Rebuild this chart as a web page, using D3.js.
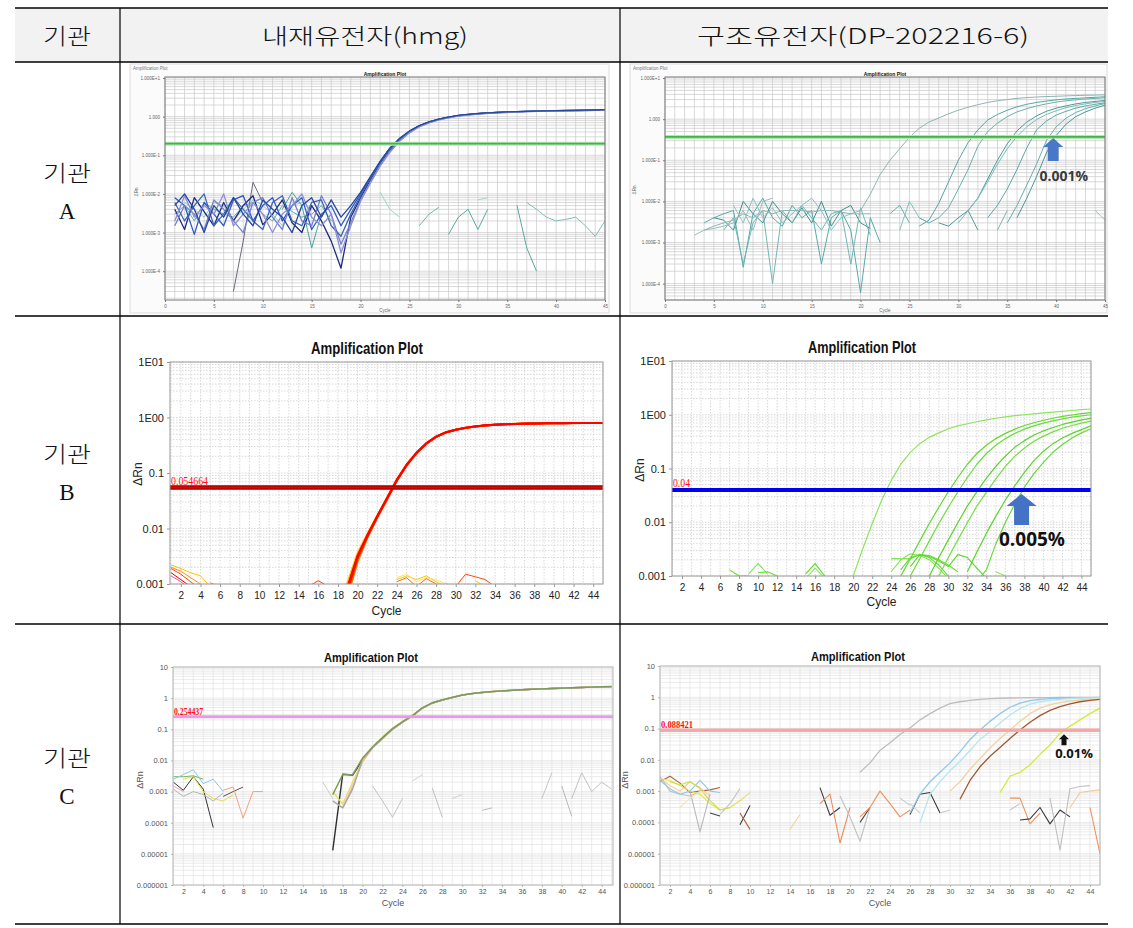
<!DOCTYPE html>
<html>
<head>
<meta charset="utf-8">
<script src="https://cdn.jsdelivr.net/npm/d3@7"></script>
<style>
  body { margin: 0; background: #fff; }
</style>
</head>
<body>
<script>
// ---------- data ----------
var headers = ["기관", "내재유전자(hmg)", "구조유전자(DP-202216-6)"];
var rowNames = ["A", "B", "C"];

// panel A1 (hmg) - cycle 1..45
var a1CurveStart = [1, 1, 1, 1, 1, 1];
var a1Curves = [
  [4e-3,1.2e-3,8e-3,3.5e-3,1.5e-3,6e-3,2e-3,5e-3,9e-3,1.6e-3,3e-3,7e-3,1.8e-3,1e-3,5e-3,2e-3,6e-4,1.2e-4,2.5e-3,8e-3,2.3e-2,6.2e-2,0.14,0.26,0.41,0.57,0.72,0.85,0.96,1.06,1.13,1.19,1.24,1.28,1.31,1.34,1.36,1.38,1.4,1.42,1.43,1.44,1.45,1.47,1.5],
  [8e-3,5e-3,9e-4,6e-3,3e-3,1.5e-3,7e-3,9e-3,2e-3,5e-3,8e-3,2e-3,5e-3,8e-3,1.2e-3,3e-3,5e-3,1.5e-3,4e-3,1e-2,2.6e-2,6.8e-2,0.15,0.27,0.42,0.58,0.73,0.86,0.97,1.07,1.14,1.2,1.25,1.29,1.32,1.35,1.37,1.39,1.41,1.43,1.44,1.45,1.46,1.48,1.51],
  [1.5e-3,5e-3,3e-3,1.2e-3,7e-3,4e-3,2e-3,1e-3,6e-3,8e-3,2.5e-3,1.2e-3,8e-3,2e-3,1.5e-3,9e-3,3e-3,5e-4,1.8e-3,7e-3,2e-2,5.5e-2,0.125,0.24,0.39,0.55,0.7,0.83,0.94,1.04,1.11,1.17,1.22,1.26,1.29,1.32,1.35,1.37,1.39,1.41,1.42,1.43,1.44,1.46,1.48],
  [6e-3,2e-3,5e-3,1e-2,1.5e-3,3e-3,8e-3,4e-3,2e-3,1.2e-3,6e-3,9e-3,2e-3,1.5e-3,6e-3,7e-3,1.5e-3,8e-4,3e-3,9e-3,2.5e-2,6.5e-2,0.145,0.265,0.415,0.575,0.725,0.855,0.965,1.065,1.135,1.195,1.245,1.285,1.315,1.345,1.365,1.385,1.405,1.425,1.435,1.445,1.455,1.475,1.5],
  [2e-3,9e-3,2.5e-3,5e-3,3e-3,1e-2,1.5e-3,3e-3,6e-3,3e-3,1e-3,3e-3,5e-3,1e-2,2.5e-3,1.5e-3,3e-3,3e-4,1.5e-3,6.5e-3,1.9e-2,5.2e-2,0.12,0.23,0.38,0.54,0.69,0.82,0.93,1.03,1.1,1.16,1.21,1.25,1.28,1.31,1.34,1.36,1.38,1.4,1.41,1.42,1.43,1.45,1.47],
  [5e-3,1e-2,4e-3,1e-3,5e-3,2.5e-3,8e-3,3e-3,1.5e-3,7e-3,4e-3,2.5e-3,1e-3,5e-3,8e-3,2.5e-3,7e-3,2.5e-3,5e-3,1.1e-2,2.8e-2,7e-2,0.155,0.275,0.425,0.585,0.735,0.865,0.975,1.075,1.145,1.205,1.255,1.295,1.325,1.355,1.375,1.395,1.415,1.435,1.445,1.455,1.465,1.485,1.52]
];
var a1NoiseStart = [1, 2, 7, 12, 22, 26, 29, 32, 36, 37];
var a1Noise = [
  [3e-3,5e-3,2e-3,6e-3,4e-3,3e-3,2.5e-3,5e-3,6e-3,3e-3,2e-3,5e-3,3.5e-3,2.5e-3,3e-3,5e-3,2e-3],
  [6e-3,4e-3,2.5e-3,6e-3,5e-3,2e-3,4e-3,7e-3,5e-3,3e-3,1.5e-3,5e-3,6e-3,4e-3],
  [3e-5,6e-4,2e-2,6e-3],
  [4e-3,1.1e-2,5e-3,4e-4,3e-3],
  [1.1e-2,4e-3,2.5e-3],
  [1.5e-3,3e-3,4.5e-3],
  [9e-4,2.5e-3,4e-3,1.2e-3,4e-3],
  [7e-3,8e-3],
  [5e-3,4e-4,1e-4],
  [6e-3,4e-3,2.5e-3,2e-3,2.2e-3,2.5e-3,1.5e-3,8e-4,2e-3]
];
var a1Threshold = 0.2;

// panel A2 (DP-202216-6)
var a2CurveStart = [4, 26, 26, 28, 30, 33, 35, 36];
var a2Curves = [
  [2e-3,2.5e-3,3e-3,3.5e-3,5e-3,4e-3,6e-3,5e-3,6e-3,6e-3,6e-3,5.5e-3,6e-3,6e-3,5.5e-3,5e-3,6e-3,1.5e-2,4.5e-2,0.1,0.19,0.36,0.6,0.85,1.07,1.35,1.65,1.95,2.25,2.55,2.8,3.0,3.2,3.35,3.45,3.55,3.6,3.68,3.75,3.8,3.85,3.9],
  [2.5e-3,3.5e-3,9e-3,3e-2,0.1,0.27,0.55,0.95,1.3,1.65,2.0,2.3,2.55,2.75,2.95,3.1,3.2,3.3,3.4,3.5],
  [4e-3,3e-3,4e-3,7e-3,2e-2,6e-2,0.22,0.5,0.8,1.15,1.5,1.8,2.1,2.35,2.6,2.8,2.95,3.1,3.2,3.3],
  [3e-3,2.5e-3,4e-3,6e-3,1.2e-2,3.5e-2,0.1,0.25,0.52,0.85,1.2,1.55,1.85,2.1,2.35,2.55,2.7,2.85],
  [3e-3,6e-3,1.2e-2,3e-2,8e-2,0.19,0.38,0.65,0.98,1.3,1.6,1.9,2.15,2.35,2.55,2.7],
  [4e-3,8e-3,2e-2,6e-2,0.2,0.55,0.9,1.25,1.55,1.85,2.1,2.3,2.5],
  [3e-3,8e-3,2.5e-2,8e-2,0.3,0.65,1.05,1.45,1.8,2.1,2.4],
  [4e-3,1.2e-2,4e-2,0.15,0.4,0.75,1.15,1.5,1.85,2.2]
];
var a2NoiseStart = [4, 5, 6, 7, 3, 23, 24, 31, 34, 44];
var a2Noise = [
  [3e-3,4e-3,5e-3,6e-3,2.5e-4,5e-3,1.2e-2,4e-3,2.5e-3,8e-3,4e-3,6e-3,3e-4,4e-3,6e-3,2e-3,6e-5,4e-3,1e-3],
  [4e-3,3.5e-3,2e-3,1e-2,5e-3,3e-3,1e-2,5e-3,3e-3,7e-3,3e-3,1e-2,2.5e-3,6e-3,8e-3,3e-3,2.2e-3],
  [2e-3,4e-3,3e-4,3e-3,6e-3,1e-4,6e-3,3e-3,8e-3,4e-3,2e-3,5e-3,6e-3,3e-4,7e-3,1.5e-3],
  [8e-3,3e-3,1.2e-2,4e-3,7e-3,3e-3,5e-3,8e-3,1.2e-2,6e-3,2e-3,4e-3,5e-3,5e-3,5e-3],
  [1.5e-3,2e-3,2.2e-3,2.5e-3,3e-3,6e-3,2e-3,1e-2,1.2e-2],
  [5e-3,8e-3,3e-3],
  [2e-3,1e-2,4e-3,3e-3],
  [6e-3,2e-3],
  [2e-3,6e-3],
  [6e-3,3.5e-3]
];
var a2Threshold = 0.37;

// panel B1 (hmg) - orange/red bundle
var b1CurveStart = [18, 18, 18, 18, 18, 18];
var b1Curves = [
  [1.5e-4,6e-4,2.5e-3,6.8e-3,1.55e-2,3.3e-2,7.2e-2,0.136,0.226,0.336,0.446,0.536,0.598,0.648,0.688,0.718,0.738,0.753,0.763,0.773,0.778,0.783,0.788,0.788,0.79,0.792,0.793,0.794],
  [4e-4,1.1e-3,3.6e-3,8e-3,1.7e-2,3.6e-2,7.7e-2,0.142,0.232,0.342,0.452,0.542,0.605,0.655,0.695,0.725,0.745,0.76,0.77,0.78,0.785,0.79,0.795,0.795,0.797,0.799,0.8,0.8],
  [2e-4,7e-4,2.8e-3,7e-3,1.6e-2,3.4e-2,7.3e-2,0.138,0.228,0.338,0.448,0.538,0.6,0.65,0.69,0.72,0.74,0.755,0.765,0.775,0.78,0.785,0.79,0.79,0.792,0.794,0.795,0.796],
  [2.5e-4,8e-4,3e-3,7.2e-3,1.62e-2,3.45e-2,7.4e-2,0.139,0.229,0.339,0.449,0.539,0.6,0.65,0.69,0.72,0.74,0.755,0.765,0.775,0.78,0.785,0.79,0.79,0.792,0.794,0.795,0.796],
  [3e-4,9e-4,3.2e-3,7.5e-3,1.65e-2,3.5e-2,7.5e-2,0.14,0.23,0.34,0.45,0.54,0.6,0.65,0.69,0.72,0.74,0.755,0.765,0.775,0.78,0.785,0.79,0.79,0.792,0.794,0.795,0.796],
  [3e-4,9e-4,3.2e-3,7.6e-3,1.66e-2,3.52e-2,7.52e-2,0.141,0.231,0.341,0.451,0.541,0.602,0.652,0.692,0.722,0.742,0.757,0.767,0.777,0.782,0.787,0.792,0.792,0.794,0.796,0.797,0.798]
];
var b1NoiseStart = [1, 1, 1, 1, 1, 5, 15, 24, 24, 24, 29, 32];
var b1Noise = [
  [2e-3,1.7e-3,1.3e-3,1e-3,8e-4],
  [1.6e-3,1.2e-3,9e-4],
  [2.2e-3,1.9e-3,1.6e-3,1.4e-3,9e-4],
  [1.4e-3,1.1e-3,8e-4],
  [1.9e-3,1.5e-3,1.1e-3,8e-4],
  [1.05e-3,9e-4],
  [9e-4,1.15e-3,9e-4],
  [1.2e-3,1.4e-3,1.2e-3,1.4e-3,1.1e-3,9e-4],
  [1.3e-3,1.5e-3,1.1e-3,1.3e-3,1.2e-3,1e-3],
  [1.1e-3,1.3e-3,9e-4,1.25e-3,1e-3],
  [1e-3,9e-4,1.5e-3,1.35e-3,1.2e-3,9e-4],
  [1.15e-3,9e-4]
];
var b1Threshold = 0.054664;

// panel B2 (DP-202216-6) - green curves
var b2CurveStart = [20, 25, 26, 28, 29, 32, 33];
var b2Curves = [
  [1e-3,3.2e-3,9.5e-3,2.6e-2,6e-2,0.12,0.2,0.29,0.38,0.46,0.55,0.62,0.68,0.74,0.8,0.86,0.91,0.96,1.0,1.04,1.08,1.12,1.16,1.2,1.25,1.28],
  [1e-3,2.1e-3,4.5e-3,9.5e-3,1.9e-2,3.7e-2,6.8e-2,0.12,0.19,0.27,0.36,0.45,0.54,0.63,0.71,0.79,0.86,0.93,0.99,1.05,1.1],
  [1e-3,2.1e-3,4.5e-3,9.5e-3,1.9e-2,3.7e-2,6.8e-2,0.12,0.19,0.27,0.36,0.45,0.54,0.62,0.7,0.77,0.84,0.9,0.95,1.0],
  [1e-3,2.2e-3,4.7e-3,9.8e-3,2e-2,3.7e-2,6.6e-2,0.11,0.17,0.25,0.33,0.42,0.5,0.58,0.66,0.73,0.8,0.86],
  [1e-3,2.2e-3,4.7e-3,9.8e-3,2e-2,3.6e-2,6.4e-2,0.11,0.17,0.24,0.32,0.4,0.48,0.56,0.63,0.7,0.76],
  [1.2e-3,2.8e-3,6.2e-3,1.3e-2,2.6e-2,4.8e-2,8.5e-2,0.14,0.21,0.29,0.37,0.45,0.53,0.62],
  [8e-4,1.3e-3,4e-3,1e-2,2.2e-2,4.5e-2,8e-2,0.13,0.2,0.28,0.37,0.46,0.55]
];
var b2NoiseStart = [7, 9, 10, 15, 15, 24, 24, 25, 26, 35];
var b2Noise = [
  [1.3e-3,1e-3,1e-3],
  [1.1e-3,1.7e-3,1.1e-3],
  [1.15e-3,1.2e-3,1e-3],
  [1.1e-3,1.7e-3,1e-3],
  [9e-4,1.4e-3,9e-4],
  [2.1e-3,2.1e-3,2.1e-3,2.5e-3,2.2e-3,1.6e-3,1e-3],
  [1.2e-3,2e-3,2.6e-3,2.4e-3,2e-3,1.4e-3,9e-4],
  [1.3e-3,2.2e-3,2.5e-3,2.4e-3,2e-3,1.6e-3,1.2e-3],
  [1.5e-3,2.5e-3,2.3e-3,1.9e-3,1.5e-3,2.5e-3,2.2e-3,1.4e-3,9e-4],
  [1.2e-3,1e-3]
];
var b2Threshold = 0.04;

// panel C1 (hmg)
var c1CurveStart = [17, 18, 17, 17, 17];
var c1Curves = [
  [1.3e-5,3.6e-3,3.4e-3,1.05e-2,2.6e-2,5.2e-2,0.1,0.17,0.27,0.48,0.7,0.87,1.05,1.25,1.4,1.52,1.62,1.7,1.78,1.85,1.92,1.98,2.03,2.08,2.15,2.2,2.25,2.3,2.35],
  [3e-4,1.5e-3,9e-3,2.5e-2,5e-2,9.8e-2,0.168,0.268,0.478,0.7,0.87,1.05,1.25,1.4,1.52,1.62,1.7,1.78,1.85,1.92,1.98,2.03,2.08,2.15,2.2,2.25,2.3,2.35],
  [1e-3,4e-4,2e-3,1e-2,2.8e-2,5.6e-2,0.11,0.18,0.28,0.5,0.72,0.89,1.07,1.27,1.42,1.54,1.64,1.72,1.8,1.87,1.94,2.0,2.05,2.1,2.17,2.22,2.27,2.32,2.37],
  [5e-4,3e-4,1.2e-3,1.1e-2,2.6e-2,5.2e-2,0.1,0.17,0.27,0.48,0.7,0.87,1.05,1.25,1.4,1.52,1.62,1.7,1.78,1.85,1.92,1.98,2.03,2.08,2.15,2.2,2.25,2.3,2.35],
  [8e-4,3.5e-3,3.5e-3,1.2e-2,2.7e-2,5.4e-2,0.105,0.175,0.275,0.49,0.71,0.88,1.06,1.26,1.41,1.53,1.63,1.71,1.79,1.86,1.93,1.99,2.04,2.09,2.16,2.21,2.26,2.31,2.36]
];
var c1NoiseStart = [1, 1, 1, 2, 1, 1, 6, 6, 16, 21, 25, 27, 29, 32, 38, 40, 41];
var c1Noise = [
  [2e-3,1.1e-3,3e-3,1.2e-3,7e-5],
  [3e-3,3e-3,3.2e-3,2.5e-3],
  [2.5e-3,3.5e-3,5e-3,1.8e-3,2.5e-3,1e-3],
  [2.5e-3,3e-3,1e-3,6e-4,5e-4,8e-4],
  [1.2e-3,7e-4,1e-3,8e-4,5e-4,9e-4],
  [1.5e-3,1e-3],
  [7e-4,1e-3,1.4e-3],
  [1.1e-3,1.4e-3,1.4e-4,1e-3,1e-3],
  [2e-3,6e-4],
  [1.5e-3,5e-4,1.5e-4,6e-4],
  [2.2e-3,3.5e-3],
  [1.3e-3,1.5e-4],
  [6e-4,8e-4],
  [2.5e-4,3e-4],
  [6e-4,4e-3],
  [1.5e-3,1.6e-4],
  [6e-4,4e-3,1e-3,2e-3,1.2e-3]
];
var c1Threshold = 0.254437;

// panel C2 (DP-202216-6)
var c2CurveStart = [21, 26, 27, 30, 31, 35];
var c2Curves = [
  [4e-3,8e-3,2e-2,3.5e-2,6.5e-2,0.105,0.19,0.3,0.45,0.63,0.72,0.8,0.86,0.9,0.93,0.95,0.96,0.97,0.98,0.98,0.99,0.99,1.0,1.0,1.0],
  [2e-4,8e-4,2e-3,4e-3,8e-3,1.8e-2,4.5e-2,9e-2,0.17,0.3,0.48,0.65,0.78,0.86,0.9,0.93,0.95,0.97,0.98,1.0],
  [1e-4,8e-4,2e-3,4.5e-3,9e-3,2e-2,4.5e-2,8e-2,0.15,0.27,0.44,0.6,0.72,0.8,0.86,0.9,0.93,0.95,0.97],
  [1e-3,2e-3,5e-3,1.1e-2,2.4e-2,4.8e-2,9e-2,0.17,0.3,0.45,0.58,0.68,0.76,0.82,0.86,0.88],
  [5.5e-4,2.2e-3,6e-3,1.3e-2,2.5e-2,4.8e-2,9e-2,0.16,0.26,0.38,0.5,0.62,0.72,0.8,0.86],
  [9e-4,3e-3,4e-3,7e-3,1.5e-2,3e-2,7e-2,0.12,0.19,0.3,0.45]
];
var c2NoiseStart = [1, 1, 1, 1, 1, 2, 4, 7, 6, 9, 9, 3, 14, 17, 17, 19, 21, 21, 25, 26, 26, 29, 36, 36, 37, 40, 42, 44];
var c2Noise = [
  [3e-3,1e-3,8e-4,7e-4,1e-3],
  [2e-3,3e-3,1.8e-3,9e-4,1e-3,1.1e-3,1.3e-3],
  [2.5e-3,2.2e-3,1.5e-3,1e-3,8e-4,4e-4,2.5e-4,3e-4,5e-4,9e-4],
  [2.2e-3,1.2e-3,8e-4,1e-3,2.2e-3,1e-3,9e-4],
  [2.5e-3,1.5e-3,1e-3,2e-3,1.3e-3,7e-4],
  [2e-3,1.6e-3,2e-3,1.2e-3,5e-4,2.5e-4,3e-4],
  [1e-3,5e-5,8e-4],
  [1.8e-4,4e-4,1.2e-3],
  [2e-4,1.6e-4],
  [8.5e-5,3.5e-4],
  [2e-4,6e-5],
  [3e-4,6e-4,1e-3,8e-4],
  [6e-5,1.8e-4],
  [1.3e-3,1.7e-4,3e-4],
  [4e-4,8e-4,2.2e-5,3e-4],
  [7e-4,1.5e-4,2.5e-5,3e-4],
  [1e-4,3e-4],
  [1.5e-4,3e-4,1e-3,4e-4,1.5e-4,2.5e-4],
  [6e-4,3.5e-4],
  [1.8e-4,8e-4,9e-4,2e-4],
  [4e-4,2e-4],
  [2e-4,2.5e-4],
  [2.5e-4,4e-4],
  [6e-4,6e-4,9e-5,2e-4],
  [1.2e-4,1.3e-4,3e-4,9e-5,2.5e-4,1.5e-4],
  [6e-4,1.3e-5,1.2e-3,1.4e-3,1.5e-3],
  [3e-4,9e-4,1e-3,1.1e-3],
  [3e-4,1e-5]
];
var c2Threshold = 0.088421;

// ---------- drawing ----------
var svg = d3.select("body").append("svg")
  .attr("width", 1133)
  .attr("height", 928);
var defs = svg.append("defs");

var colX = [15, 120, 620, 1108];
var rowY = [8, 62, 316, 624, 924];

// header band
svg.append("rect")
  .attr("x", colX[0]).attr("y", rowY[0])
  .attr("width", colX[3] - colX[0]).attr("height", rowY[1] - rowY[0])
  .attr("fill", "#f2f2f2");

var kor = "'Noto Sans CJK KR', sans-serif";
var headerX = [67, 365, 863];
var headerW = [48, 206, 332];
headers.forEach(function(h, i) {
  svg.append("text")
    .attr("x", headerX[i]).attr("y", 44)
    .attr("text-anchor", "middle")
    .attr("font-family", kor).attr("font-weight", 300)
    .attr("font-size", 22)
    .attr("textLength", headerW[i]).attr("lengthAdjust", "spacingAndGlyphs")
    .attr("fill", "#111")
    .text(h);
});

rowNames.forEach(function(r, i) {
  var mid = (rowY[i + 1] + rowY[i + 2]) / 2;
  svg.append("text")
    .attr("x", 67).attr("y", mid - 8)
    .attr("text-anchor", "middle")
    .attr("font-family", kor).attr("font-weight", 300).attr("font-size", 22)
    .attr("textLength", 48).attr("lengthAdjust", "spacingAndGlyphs")
    .attr("fill", "#111")
    .text(headers[0]);
  svg.append("text")
    .attr("x", 67).attr("y", mid + 30)
    .attr("text-anchor", "middle")
    .attr("font-family", "'Liberation Serif', serif").attr("font-size", 23)
    .attr("fill", "#111")
    .text(r);
});

function series(starts, values, colors, width, opacity) {
  return values.map(function(v, i) {
    return { start: starts[i], values: v, color: colors[i % colors.length], width: width, opacity: opacity };
  });
}

function minorTicks(dom) {
  var out = [];
  var lo = Math.floor(Math.log10(dom[0])), hi = Math.ceil(Math.log10(dom[1]));
  for (var e = lo; e <= hi; e++) {
    for (var k = 1; k < 10; k++) {
      var v = k * Math.pow(10, e);
      if (v >= dom[0] * 0.999 && v <= dom[1] * 1.001) out.push(v);
    }
  }
  return out;
}

function drawPanel(p, list) {
  var g = svg.append("g");
  var x = d3.scaleLinear().domain(p.xDomain).range(p.xRange);
  var y = d3.scaleLog().domain(p.yDomain).range([p.bottom, p.top]);

  if (p.frame) {
    g.append("rect")
      .attr("x", p.frame[0]).attr("y", p.frame[1])
      .attr("width", p.frame[2] - p.frame[0]).attr("height", p.frame[3] - p.frame[1])
      .attr("fill", "#fbfbfb").attr("stroke", "#dcdcdc");
  }
  g.append("rect")
    .attr("x", p.left).attr("y", p.top)
    .attr("width", p.right - p.left).attr("height", p.bottom - p.top)
    .attr("fill", "#fff");

  // grid lines
  g.selectAll(null).data(minorTicks(p.yDomain)).enter().append("line")
    .attr("x1", p.left).attr("x2", p.right)
    .attr("y1", function(d) { return y(d); }).attr("y2", function(d) { return y(d); })
    .attr("stroke", p.grid).attr("stroke-width", p.gridWidth)
    .attr("stroke-dasharray", p.dash);
  g.selectAll(null).data(d3.range(Math.ceil(p.xDomain[0]), p.xDomain[1] + 1)).enter().append("line")
    .attr("x1", function(d) { return x(d); }).attr("x2", function(d) { return x(d); })
    .attr("y1", p.top).attr("y2", p.bottom)
    .attr("stroke", p.grid).attr("stroke-width", p.gridWidth)
    .attr("stroke-dasharray", p.dash);

  var cid = "clip-" + p.id;
  defs.append("clipPath").attr("id", cid).append("rect")
    .attr("x", p.left).attr("y", p.top)
    .attr("width", p.right - p.left).attr("height", p.bottom - p.top);

  var line = d3.line()
    .defined(function(d) { return d[1] != null; })
    .x(function(d) { return x(d[0]); })
    .y(function(d) { return y(d[1]); });

  var cg = g.append("g").attr("clip-path", "url(#" + cid + ")");
  list.forEach(function(s) {
    cg.append("path")
      .datum(s.values.map(function(v, j) { return [s.start + j, v]; }))
      .attr("d", line)
      .attr("fill", "none")
      .attr("stroke", s.color)
      .attr("stroke-width", s.width)
      .attr("stroke-opacity", s.opacity == null ? 1 : s.opacity)
      .attr("stroke-linejoin", "round");
  });

  // threshold
  var ty = y(p.threshold);
  p.thresholdStyle.forEach(function(st) {
    g.append("line")
      .attr("x1", p.left).attr("x2", p.right)
      .attr("y1", ty).attr("y2", ty)
      .attr("stroke", st[0]).attr("stroke-width", st[1]);
  });
  if (p.thresholdLabel) {
    g.append("text")
      .attr("x", p.left + 1).attr("y", ty - p.labelLift)
      .attr("font-family", "'Liberation Serif', serif")
      .attr("font-weight", p.labelWeight)
      .attr("font-size", p.labelSize)
      .attr("textLength", p.labelWidth).attr("lengthAdjust", "spacingAndGlyphs")
      .attr("fill", "#ff1010")
      .text(p.thresholdLabel);
  }

  // frame of plot
  g.append("rect")
    .attr("x", p.left).attr("y", p.top)
    .attr("width", p.right - p.left).attr("height", p.bottom - p.top)
    .attr("fill", "none").attr("stroke", p.border).attr("stroke-width", 1);

  // axes
  var yAxis = d3.axisLeft(y).tickValues(p.yTicks)
    .tickFormat(function(d, i) { return p.yLabels[i]; })
    .tickSize(p.tickSize).tickPadding(p.yPad);
  var ya = g.append("g").attr("transform", "translate(" + p.left + ",0)").call(yAxis);
  ya.select(".domain").remove();
  ya.selectAll("line").attr("stroke", p.border);
  ya.selectAll("text")
    .attr("font-family", p.font).attr("font-size", p.yFont).attr("fill", p.textColor);

  var xAxis = d3.axisBottom(x).tickValues(p.xTicks).tickSize(p.tickSize).tickPadding(p.xPad);
  var xa = g.append("g").attr("transform", "translate(0," + p.bottom + ")").call(xAxis);
  xa.select(".domain").remove();
  xa.selectAll("line").attr("stroke", p.border);
  xa.selectAll("text")
    .attr("font-family", p.font).attr("font-size", p.xFont).attr("fill", p.textColor);

  // titles
  var t = g.append("text")
    .attr("x", p.titleX).attr("y", p.titleY)
    .attr("text-anchor", "middle")
    .attr("font-family", p.titleFont).attr("font-weight", "bold")
    .attr("font-size", p.titleSize)
    .attr("fill", "#111")
    .text("Amplification Plot");
  if (p.titleWidth) t.attr("textLength", p.titleWidth).attr("lengthAdjust", "spacingAndGlyphs");
  g.append("text")
    .attr("x", (p.left + p.right) / 2).attr("y", p.cycleY)
    .attr("text-anchor", "middle")
    .attr("font-family", p.font).attr("font-size", p.cycleSize)
    .attr("fill", p.textColor)
    .text("Cycle");
  g.append("text")
    .attr("transform", "translate(" + p.rnX + "," + p.rnY + ") rotate(-90)")
    .attr("text-anchor", "middle")
    .attr("font-family", p.font).attr("font-size", p.cycleSize)
    .attr("fill", p.textColor)
    .text("ΔRn");
  return { x: x, y: y, g: g };
}

function arrow(cx, tip, len, headW, headH, shaftW, color) {
  var d = [
    [cx, tip], [cx + headW / 2, tip + headH], [cx + shaftW / 2, tip + headH],
    [cx + shaftW / 2, tip + len], [cx - shaftW / 2, tip + len],
    [cx - shaftW / 2, tip + headH], [cx - headW / 2, tip + headH]
  ];
  svg.append("path").attr("d", "M" + d.join("L") + "Z").attr("fill", color);
}

// shared styles
var styleA = {
  xDomain: [0, 45], xTicks: d3.range(0, 46, 5),
  grid: "#c9c9c9", gridWidth: 0.7, dash: null, border: "#777",
  tickSize: 2, yPad: 3, xPad: 3, font: "'Liberation Sans', Arial, sans-serif",
  yFont: 4.5, xFont: 4.5, textColor: "#666",
  titleFont: "'Liberation Sans', Arial, sans-serif", titleSize: 5,
  cycleSize: 4.5,
  yTicks: [10, 1, 0.1, 0.01, 0.001, 0.0001],
  yLabels: ["1.000E+1", "1.000", "1.000E-1", "1.000E-2", "1.000E-3", "1.000E-4"],
  thresholdStyle: [["#b6e6b0", 4], ["#3fb44a", 1.6]]
};
var styleB = {
  xDomain: [1, 45], xTicks: d3.range(2, 45, 2),
  grid: "#cfcfcf", gridWidth: 0.8, dash: "1.5,1.5", border: "#9a9a9a",
  tickSize: 3, yPad: 3, xPad: 5, font: "'Liberation Sans Narrow', 'Liberation Sans', Arial, sans-serif",
  yFont: 11, xFont: 10, textColor: "#222",
  titleFont: "'Liberation Sans Narrow', 'Liberation Sans', Arial, sans-serif", titleSize: 17,
  cycleSize: 12,
  yTicks: [10, 1, 0.1, 0.01, 0.001],
  yLabels: ["1E01", "1E00", "0.1", "0.01", "0.001"],
  labelWeight: "normal"
};
var styleC = {
  xDomain: [1, 45], xTicks: d3.range(2, 45, 2),
  grid: "#e3e3e3", gridWidth: 0.7, dash: null, border: "#b5b5b5",
  tickSize: 2, yPad: 3, xPad: 2, font: "'Liberation Sans', Arial, sans-serif",
  yFont: 7.5, xFont: 7, textColor: "#555",
  titleFont: "'Liberation Sans', Arial, sans-serif", titleSize: 12.5,
  cycleSize: 9,
  yTicks: [10, 1, 0.1, 0.01, 0.001, 0.0001, 0.00001, 0.000001],
  yLabels: ["10", "1", "0.1", "0.01", "0.001", "0.0001", "0.00001", "0.000001"],
  labelWeight: "bold"
};

// ---- row A ----
function smallTexts(frameX, frameY) {
  svg.append("text").attr("x", frameX + 3).attr("y", frameY + 6)
    .attr("font-family", "'Liberation Sans', Arial, sans-serif").attr("font-size", 4.5)
    .attr("fill", "#777").text("Amplification Plot");
}

var pA1 = Object.assign({}, styleA, {
  id: "a1", left: 165, right: 605, top: 77, bottom: 300, xRange: [165, 605],
  yDomain: [1.8e-5, 10.6], frame: [130, 64, 609, 313],
  threshold: a1Threshold, titleX: 385, titleY: 76, cycleY: 312, rnX: 138, rnY: 192
});
drawPanel(pA1,
  series(a1NoiseStart, a1Noise, ["#5fb0a8", "#8ccac3", "#6a6a7a", "#4aa39a", "#9fd4cc", "#6bb8b0", "#58aaa0", "#a6d6d0", "#5aa7a0", "#7cc0b8"], 1)
  .concat(series(a1CurveStart, a1Curves, ["#1e2a80", "#2f58c8", "#7381d0", "#3a66b4", "#8c8fd2", "#27479c"], 1.3)));
smallTexts(130, 64);

var pA2 = Object.assign({}, styleA, {
  id: "a2", left: 665, right: 1105, top: 77, bottom: 300, xRange: [665, 1105],
  yDomain: [4e-5, 10.6], frame: [630, 64, 1107, 313],
  threshold: a2Threshold, titleX: 885, titleY: 76, cycleY: 312, rnX: 636, rnY: 190
});
var a2 = drawPanel(pA2,
  series(a2NoiseStart, a2Noise, ["#5aa8a8", "#3f8f90", "#6fb8b6", "#8cc4c2", "#9bbcbc", "#6aaeae", "#86c0c0", "#4f9c9c", "#77b6b6", "#8fc6c6"], 1)
  .concat(series(a2CurveStart, a2Curves, ["#8fb5b3", "#5aa3a3", "#6cb0b0", "#4d9a9a", "#7dbcbc", "#5ca8a8", "#68aeae", "#4b9797"], 1)));
smallTexts(630, 64);
arrow(a2.x(39.7), a2.y(a2Threshold) + 1, 23, 20, 9, 11, "#4a78c8");
svg.append("text").attr("x", a2.x(40.8)).attr("y", 181)
  .attr("text-anchor", "middle").attr("font-family", "'Open Sans', 'Liberation Sans', sans-serif")
  .attr("font-weight", "bold").attr("font-size", 14).attr("fill", "#3a3a3a").text("0.001%");

// ---- row B ----
var pB1 = Object.assign({}, styleB, {
  id: "b1", left: 170, right: 603, top: 362, bottom: 584, xRange: [171, 603],
  yDomain: [1e-3, 10], threshold: b1Threshold,
  thresholdStyle: [["#9c0000", 4.5], ["#e60000", 2]],
  thresholdLabel: "0.054664", labelSize: 13, labelWidth: 37, labelLift: 3,
  titleX: 367, titleY: 354, titleWidth: 112, cycleY: 615, rnX: 142, rnY: 474
});
drawPanel(pB1,
  series(b1NoiseStart, b1Noise, ["#ff8c00", "#e00000", "#ffc000", "#ff4f8a", "#ff4500", "#ff8000", "#ff3a00", "#f0d000", "#ffe070", "#ff6a00", "#ff4a00", "#f5d200"], 1)
  .concat(series(b1CurveStart, b1Curves, ["#ff7a00", "#ffc400", "#ff5000", "#d02000", "#ff2000", "#ff0000"], 2)));

var pB2 = Object.assign({}, styleB, {
  id: "b2", left: 672, right: 1091, top: 361, bottom: 576, xRange: [672.5, 1091],
  yDomain: [1e-3, 10], threshold: b2Threshold,
  thresholdStyle: [["#0000f0", 4]],
  thresholdLabel: "0.04", labelSize: 13, labelWidth: 17, labelLift: 3,
  titleX: 862, titleY: 353, titleWidth: 108, cycleY: 606, rnX: 644, rnY: 470
});
var b2 = drawPanel(pB2,
  series(b2NoiseStart, b2Noise, ["#5edc2a", "#7fe64c", "#66de34", "#59d828", "#8ae85a"], 1.1)
  .concat(series(b2CurveStart, b2Curves, ["#8ee45e", "#62d82e", "#6cdc3a", "#58d426", "#74de42", "#5cd52a", "#6ad938"], 1.2)));
arrow(b2.x(37.7), b2.y(b2Threshold) + 4, 31, 30, 12, 15, "#4472c4");
svg.append("text").attr("x", 1032).attr("y", 546)
  .attr("text-anchor", "middle").attr("font-family", "'Open Sans', 'Liberation Sans', sans-serif")
  .attr("font-weight", "bold").attr("font-size", 19).attr("fill", "#111").text("0.005%");

// ---- row C ----
var pC1 = Object.assign({}, styleC, {
  id: "c1", left: 173, right: 613, top: 667, bottom: 885, xRange: [173.4, 611.6],
  yDomain: [1e-6, 10], threshold: c1Threshold,
  thresholdStyle: [["#e69be6", 3]],
  thresholdLabel: "0.254437", labelSize: 9.5, labelWidth: 29, labelLift: 2,
  titleX: 371, titleY: 662, titleWidth: 94, cycleY: 906, rnX: 143, rnY: 780
});
drawPanel(pC1,
  series(c1NoiseStart, c1Noise, ["#333333", "#7ab05a", "#90c8e4", "#e2e04a", "#b4b4b4", "#e8a4c4", "#555555", "#f0a080", "#cccccc", "#c4c4c4", "#d0d0d0", "#c0c0c0", "#cfcfcf", "#bcbcbc", "#c6c6c6", "#b8b8b8", "#c2c2c2"], 1)
  .concat(series(c1CurveStart, c1Curves, ["#2e2e2e", "#f0b4a8", "#e6e060", "#a8a8a8", "#7d9a5a"], 1.4)));

var pC2 = Object.assign({}, styleC, {
  id: "c2", left: 660, right: 1100, top: 666, bottom: 885, xRange: [660, 1100],
  yDomain: [1e-6, 10], threshold: c2Threshold,
  thresholdStyle: [["#f6a8a8", 3.5]],
  thresholdLabel: "0.088421", labelSize: 10, labelWidth: 32, labelLift: 2,
  titleX: 858, titleY: 661, titleWidth: 94, cycleY: 906, rnX: 628, rnY: 780
});
var c2 = drawPanel(pC2,
  series(c2NoiseStart, c2Noise, ["#c0c0c0", "#b0603a", "#e4e050", "#8ec8e8", "#f0c890", "#c8e040", "#b8b8b8", "#c4c4c4", "#444444", "#3a3a3a", "#b0603a", "#f4e4a8", "#f2d4a0", "#3e3e3e", "#f08a5a", "#c0c0c0", "#444444", "#f0905a", "#c8c8c8", "#3a3a3a", "#d0d0d0", "#c8c8c8", "#c4c4c4", "#f0905a", "#3a3a3a", "#c0c0c0", "#f2cc9c", "#f0905a"], 1.1)
  .concat(series(c2CurveStart, c2Curves, ["#bdbdbd", "#8ec8e8", "#b4e6ee", "#f2d2a0", "#a0582e", "#d6e83a"], 1.3)));
arrow(c2.x(41.4), c2.y(c2Threshold) + 4, 11, 10, 5, 5, "#111");
svg.append("text").attr("x", 1074).attr("y", 758)
  .attr("text-anchor", "middle").attr("font-family", "'Open Sans', 'Liberation Sans', sans-serif")
  .attr("font-weight", "bold").attr("font-size", 13).attr("fill", "#111").text("0.01%");

// ---- table rules (drawn last so they sit on top) ----
rowY.forEach(function(yy) {
  svg.append("line").attr("x1", colX[0]).attr("x2", colX[3])
    .attr("y1", yy).attr("y2", yy).attr("stroke", "#000").attr("stroke-width", 1.5);
});
[colX[1], colX[2]].forEach(function(xx) {
  svg.append("line").attr("x1", xx).attr("x2", xx)
    .attr("y1", rowY[0]).attr("y2", rowY[4]).attr("stroke", "#000").attr("stroke-width", 1.2);
});
</script>
</body>
</html>
